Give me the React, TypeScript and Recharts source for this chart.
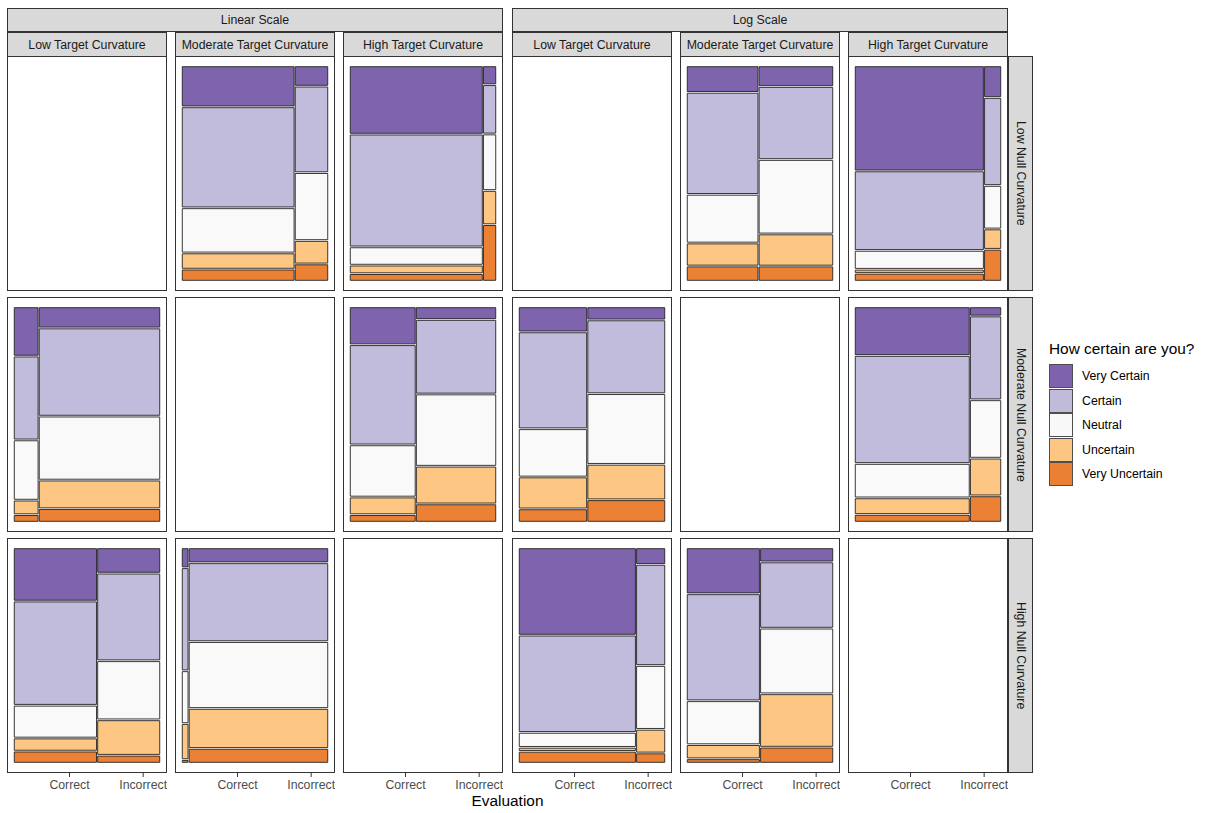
import { ComposedChart, XAxis, YAxis, ReferenceArea } from "recharts";

const scaleLabels = ["Linear Scale", "Log Scale"];
const targetLabels = ["Low Target Curvature", "Moderate Target Curvature", "High Target Curvature"];
const nullLabels = ["Low Null Curvature", "Moderate Null Curvature", "High Null Curvature"];
const evaluations = ["Correct", "Incorrect"];
const certainty = ["Very Certain", "Certain", "Neutral", "Uncertain", "Very Uncertain"];
const certaintyColors = ["#5e3c99", "#b2abd2", "#f7f7f7", "#fdb863", "#e66101"];

// share of "Correct" answers (mosaic column width) per panel column, null = no data
const lowNullShare = [null, 0.775, 0.915, null, 0.49, 0.888];
const modNullShare = [0.165, null, 0.45, 0.467, null, 0.79];
const highNullShare = [0.57, 0.04, null, 0.805, 0.5, null];

// certainty proportions within each column, Very Certain -> Very Uncertain
const lowNullCorrect = [
  null,
  [0.19, 0.48, 0.21, 0.07, 0.05],
  [0.322, 0.537, 0.08, 0.033, 0.028],
  null,
  [0.12, 0.485, 0.227, 0.103, 0.065],
  [0.5, 0.376, 0.083, 0.011, 0.03],
];
const lowNullIncorrect = [
  null,
  [0.09, 0.41, 0.32, 0.105, 0.075],
  [0.083, 0.23, 0.265, 0.157, 0.265],
  null,
  [0.092, 0.345, 0.352, 0.147, 0.065],
  [0.145, 0.417, 0.202, 0.09, 0.146],
];
const modNullCorrect = [
  [0.23, 0.397, 0.283, 0.062, 0.028],
  null,
  [0.175, 0.476, 0.244, 0.077, 0.028],
  [0.113, 0.46, 0.225, 0.146, 0.056],
  null,
  [0.227, 0.514, 0.158, 0.072, 0.029],
];
const modNullIncorrect = [
  [0.094, 0.418, 0.301, 0.13, 0.057],
  null,
  [0.053, 0.352, 0.341, 0.174, 0.08],
  [0.055, 0.348, 0.333, 0.163, 0.1],
  null,
  [0.036, 0.397, 0.274, 0.174, 0.119],
];
const highNullCorrect = [
  [0.249, 0.495, 0.15, 0.055, 0.05],
  [0.088, 0.49, 0.247, 0.166, 0.009],
  null,
  [0.414, 0.462, 0.064, 0.011, 0.049],
  [0.214, 0.509, 0.204, 0.06, 0.013],
  null,
];
const highNullIncorrect = [
  [0.114, 0.415, 0.277, 0.163, 0.03],
  [0.064, 0.373, 0.315, 0.185, 0.063],
  null,
  [0.072, 0.48, 0.3, 0.106, 0.041],
  [0.06, 0.312, 0.309, 0.25, 0.069],
  null,
];

// x positions of the "Correct" / "Incorrect" ticks (data units)
const evalTicks = [0.38, 0.886];

const shares = [lowNullShare, modNullShare, highNullShare];
const corrects = [lowNullCorrect, modNullCorrect, highNullCorrect];
const incorrects = [lowNullIncorrect, modNullIncorrect, highNullIncorrect];

const FONT = '"Liberation Sans", Arial, Helvetica, sans-serif';
const GAP = 0.008;
const PW = 160;
const PH = 235;
const AXIS_H = 24;
const colX = [7, 175, 343, 512, 680, 848];
const rowY = [56, 297, 538];

type Rect = { x1: number; x2: number; y1: number; y2: number; fill: string };

function split(props: number[], gap: number) {
  const total = props.reduce((a, b) => a + b, 0);
  const avail = 1 - gap * (props.length - 1);
  let cur = 0;
  return props.map((p) => {
    const s = cur;
    const w = (p / total) * avail;
    cur += w + gap;
    return [s, s + w];
  });
}

function buildRects(share: number | null, correct: number[] | null, incorrect: number[] | null): Rect[] {
  if (share == null || !correct || !incorrect) return [];
  const cols = split([share, 1 - share], GAP);
  const out: Rect[] = [];
  [correct, incorrect].forEach((props, ci) => {
    // stack from the bottom: Very Uncertain first
    const ys = split(props.slice().reverse(), GAP);
    ys.forEach(([y1, y2], k) => {
      const idx = props.length - 1 - k;
      out.push({ x1: cols[ci][0], x2: cols[ci][1], y1, y2, fill: certaintyColors[idx] });
    });
  });
  return out;
}

function Panel({ left, top, rects, showAxis }: { left: number; top: number; rects: Rect[]; showAxis: boolean }) {
  return (
    <div style={{ position: "absolute", left, top, width: PW, height: PH + (showAxis ? AXIS_H : 0) }}>
      <ComposedChart
        width={PW}
        height={PH + (showAxis ? AXIS_H : 0)}
        data={rects}
        margin={{ top: 0, right: 0, bottom: 0, left: 0 }}
      >
        <XAxis
          type="number"
          dataKey="x1"
          domain={[-0.05, 1.05]}
          allowDataOverflow
          ticks={evalTicks}
          interval={0}
          hide={!showAxis}
          height={AXIS_H}
          axisLine={false}
          tickSize={4}
          tickMargin={3}
          tickLine={{ stroke: "#333333" }}
          tick={{ fill: "#4d4d4d", fontSize: 12.3, fontFamily: FONT }}
          tickFormatter={(v: number) => evaluations[evalTicks.indexOf(v)] ?? ""}
        />
        <YAxis type="number" domain={[-0.05, 1.05]} allowDataOverflow hide />
        {rects.map((r, i) => (
          <ReferenceArea
            key={i}
            x1={r.x1}
            x2={r.x2}
            y1={r.y1}
            y2={r.y2}
            fill={r.fill}
            fillOpacity={0.8}
            stroke="#222222"
            strokeWidth={0.9}
            strokeOpacity={1}
          />
        ))}
      </ComposedChart>
      <div
        style={{
          position: "absolute",
          left: 0,
          top: 0,
          width: PW,
          height: PH,
          border: "1px solid #333333",
          boxSizing: "border-box",
          pointerEvents: "none",
        }}
      />
    </div>
  );
}

const stripStyle: React.CSSProperties = {
  position: "absolute",
  background: "#d9d9d9",
  border: "1px solid #333333",
  boxSizing: "border-box",
  color: "#1a1a1a",
  fontSize: 12.3,
  fontFamily: FONT,
  display: "flex",
  alignItems: "center",
  justifyContent: "center",
  whiteSpace: "nowrap",
};

export default function App() {
  return (
    <div
      style={{
        position: "absolute",
        left: 0,
        top: 0,
        width: 1206,
        height: 813,
        background: "#ffffff",
        fontFamily: FONT,
        overflow: "hidden",
      }}
    >
      {/* top strips: scale */}
      {scaleLabels.map((s, i) => (
        <div key={s} style={{ ...stripStyle, left: colX[i * 3], top: 8, width: colX[i * 3 + 2] + PW - colX[i * 3], height: 24 }}>
          {s}
        </div>
      ))}
      {/* second strips: target curvature */}
      {colX.map((x, c) => (
        <div key={c} style={{ ...stripStyle, left: x, top: 32, width: PW, height: 25 }}>
          {targetLabels[c % 3]}
        </div>
      ))}
      {/* right strips: null curvature */}
      {rowY.map((y, r) => (
        <div key={r} style={{ ...stripStyle, left: 1008, top: y, width: 25, height: PH }}>
          <span style={{ writingMode: "vertical-rl" }}>{nullLabels[r]}</span>
        </div>
      ))}
      {/* panels */}
      {rowY.map((y, r) =>
        colX.map((x, c) => (
          <Panel
            key={`${r}-${c}`}
            left={x}
            top={y}
            showAxis={r === 2}
            rects={buildRects(shares[r][c], corrects[r][c], incorrects[r][c])}
          />
        )),
      )}
      {/* axis title */}
      <div
        style={{
          position: "absolute",
          left: colX[0],
          width: colX[5] + PW - colX[0],
          top: 792,
          textAlign: "center",
          fontSize: 15.4,
          color: "#000000",
        }}
      >
        Evaluation
      </div>
      {/* legend */}
      <div style={{ position: "absolute", left: 1049, top: 340, fontSize: 15.4, color: "#000000", whiteSpace: "nowrap" }}>
        How certain are you?
      </div>
      {certainty.map((lab, i) => (
        <div key={lab} style={{ position: "absolute", left: 1049, top: 364 + i * 24.5, height: 24, display: "flex", alignItems: "center" }}>
          <div
            style={{
              width: 24,
              height: 24,
              boxSizing: "border-box",
              border: "0.8px solid #222222",
              background: certaintyColors[i],
              opacity: 0.8,
            }}
          />
          <span style={{ marginLeft: 9, fontSize: 12.3, color: "#000000", whiteSpace: "nowrap" }}>{lab}</span>
        </div>
      ))}
    </div>
  );
}
